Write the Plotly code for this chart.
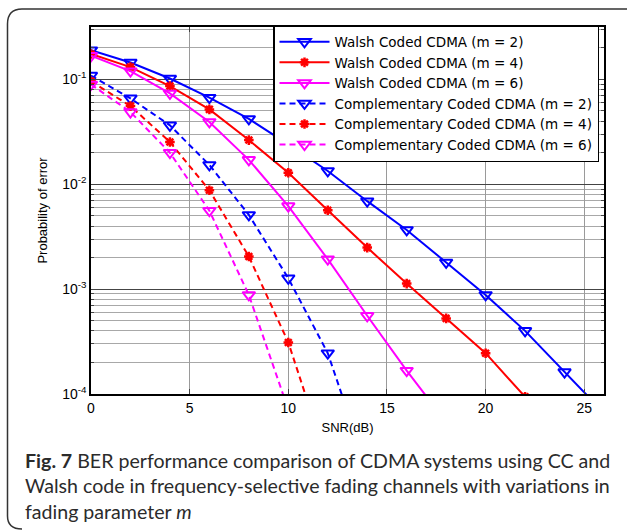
import plotly.graph_objects as go

snr = [0, 2, 4, 6, 8, 10, 12, 14, 16, 18, 20, 22, 24, 26]

walsh_m2 = [0.19, 0.145, 0.102, 0.067, 0.042, 0.024, 0.0134, 0.0069, 0.00367, 0.0018, 8.8e-4, 4.0e-4, 1.62e-4, 6.6e-5]
walsh_m4 = [0.175, 0.131, 0.0865, 0.0518, 0.0264, 0.0129, 0.00565, 0.00249, 0.00113, 5.26e-4, 2.45e-4, 9.4e-5]
walsh_m6 = [0.168, 0.12, 0.0736, 0.0393, 0.0171, 0.0062, 0.00193, 5.57e-4, 1.67e-4, 5.4e-5]
cc_m2 = [0.109, 0.066, 0.0365, 0.0153, 0.0051, 0.00127, 2.45e-4, 1.9e-5]
cc_m4 = [0.096, 0.0557, 0.0253, 0.00877, 0.00205, 3.1e-4, 2.2e-5]
cc_m6 = [0.0896, 0.0489, 0.02, 0.0056, 8.8e-4, 7.1e-5]

names = [
    "Walsh Coded CDMA (m = 2)",
    "Walsh Coded CDMA (m = 4)",
    "Walsh Coded CDMA (m = 6)",
    "Complementary Coded CDMA (m = 2)",
    "Complementary Coded CDMA (m = 4)",
    "Complementary Coded CDMA (m = 6)",
]
series = [walsh_m2, walsh_m4, walsh_m6, cc_m2, cc_m4, cc_m6]
colors = ["#0000ff", "#ff0000", "#ff00ff", "#0000ff", "#ff0000", "#ff00ff"]
dashes = ["solid", "solid", "solid", "6px,4px", "6px,4px", "6px,4px"]
symbols = ["triangle-down-open", "asterisk-open", "triangle-down-open",
           "triangle-down-open", "asterisk-open", "triangle-down-open"]

y_major = [1e-4, 1e-3, 1e-2, 1e-1]
y_major_text = ["10<sup>-4</sup>", "10<sup>-3</sup>", "10<sup>-2</sup>", "10<sup>-1</sup>"]
x_ticks = [0, 5, 10, 15, 20, 25]

fig = go.Figure()
for name, vals, c, d, s in zip(names, series, colors, dashes, symbols):
    fig.add_trace(go.Scatter(
        x=snr[:len(vals)], y=vals, name=name, mode="lines+markers",
        line=dict(color=c, width=2, dash=d),
        marker=dict(symbol=s, size=11 if "triangle" in s else 8, color=c,
                    line=dict(color=c, width=2.5 if "asterisk" in s else 2)),
    ))

minor_vals = []
for e in [1e-4, 1e-3, 1e-2, 1e-1]:
    for k in range(2, 10):
        minor_vals.append(k * e)

L, R, T, B = 91, 23, 27, 136
W, H = 627, 530
PW, PH = W - L - R, H - T - B

fig.update_layout(
    width=W, height=H,
    margin=dict(l=L, r=R, t=T, b=B),
    paper_bgcolor="white", plot_bgcolor="white",
    font=dict(family="Liberation Sans, Arial", size=13, color="black"),
    showlegend=True,
    legend=dict(
        x=(273 - L) / PW, y=(H - B - 25) / PH, xanchor="left", yanchor="top",
        bgcolor="white", bordercolor="black", borderwidth=1.5,
        font=dict(size=13.5, family="DejaVu Sans"),
        tracegroupgap=0, itemwidth=50,
    ),
    xaxis=dict(
        range=[0, 26], tickvals=x_ticks, ticks="inside", ticklen=5,
        showline=True, linecolor="black", linewidth=1.5, mirror="ticks",
        showgrid=True, gridcolor="#9a9a9a", gridwidth=1, zeroline=False,
        title=dict(text="SNR(dB)", font=dict(size=13), standoff=8),
        tickfont=dict(size=14), automargin=False,
    ),
    yaxis=dict(
        type="log", range=[-4, -0.5], tickvals=y_major, ticktext=y_major_text,
        ticks="inside", ticklen=5,
        showline=True, linecolor="black", linewidth=1.5, mirror="ticks",
        showgrid=True, gridcolor="#444444", gridwidth=1, zeroline=False,
        minor=dict(tickvals=minor_vals, showgrid=True, gridcolor="#a8a8a8",
                   gridwidth=1, ticks="inside", ticklen=3),
        title=dict(text="Probability of error", font=dict(size=13), standoff=12),
        tickfont=dict(size=14), automargin=False,
    ),
)

# rounded frame around figure and caption (paper coords relative to plot area)
def px(x):
    return (x - L) / PW

def py(y):
    return (H - B - y) / PH

path = (f"M {px(22)},{py(529)} Q {px(7.5)},{py(529)} {px(7.5)},{py(516)} "
        f"L {px(7.5)},{py(24)} "
        f"Q {px(7.5)},{py(9)} {px(22)},{py(9)} L {px(640)},{py(9)}")
fig.add_shape(type="path", xref="paper", yref="paper", path=path,
              line=dict(color="#333333", width=1.5), layer="above")

fig.add_annotation(
    xref="paper", yref="paper", x=px(23), y=py(447), xanchor="left", yanchor="top",
    align="left", showarrow=False,
    text=("<b>Fig. 7</b> BER performance comparison of CDMA systems using CC and<br>"
          "Walsh code in frequency-selective fading channels with variations in<br>"
          "fading parameter <i>m</i>"),
    font=dict(family="Lato", size=19.6, color="#2b2b2b"),
)

fig.write_html("out.html", config={"displayModeBar": False},
               post_script="document.body.style.margin='0';")
